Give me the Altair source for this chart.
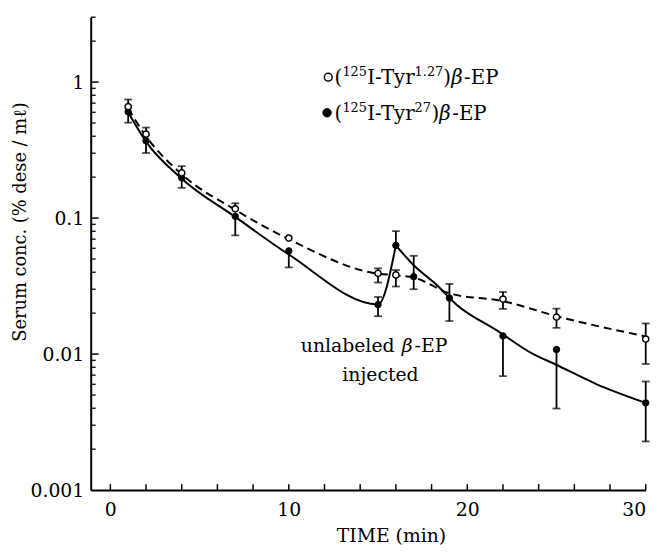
import altair as alt
import pandas as pd

# ---------------- data ----------------
# open circles: (125I-Tyr1.27)beta-EP
t_open  = [1, 2, 4, 7, 10, 15, 16, 22, 25, 30]
v_open  = [0.66, 0.414, 0.215, 0.117, 0.0713, 0.0393, 0.0382, 0.0254, 0.0187, 0.0129]
lo_open = [0.66, 0.414, 0.215, 0.117, 0.0713, 0.0336, 0.0314, 0.0215, 0.0156, 0.00846]
hi_open = [0.745, 0.463, 0.241, 0.1285, 0.0713, 0.0427, 0.0415, 0.0286, 0.0216, 0.0168]

# filled circles: (125I-Tyr27)beta-EP
t_fill  = [1, 2, 4, 7, 10, 15, 16, 17, 19, 22, 25, 30]
v_fill  = [0.605, 0.37, 0.198, 0.103, 0.0574, 0.0231, 0.063, 0.0371, 0.0258, 0.0136, 0.0108, 0.00438]
lo_fill = [0.503, 0.301, 0.167, 0.0746, 0.0434, 0.019, 0.063, 0.030, 0.0175, 0.00689, 0.00398, 0.00228]
hi_fill = [0.605, 0.37, 0.198, 0.103, 0.0574, 0.0263, 0.0802, 0.0528, 0.0328, 0.0136, 0.0108, 0.00629]

# fitted curves
fit_open_t = [1, 2, 4, 7, 10, 15, 16, 17, 19, 22, 25, 30]
fit_open_v = [0.64, 0.40, 0.21, 0.115, 0.070, 0.039, 0.038, 0.0365, 0.028, 0.0245, 0.019, 0.0135]

fit_fill_a_t = [1, 2, 4, 7, 10, 15, 16]
fit_fill_a_v = [0.60, 0.365, 0.195, 0.102, 0.054, 0.0232, 0.063]
fit_fill_b_t = [16, 17, 18.2, 19.4, 21.7, 23.7, 24.9, 27.2, 30]
fit_fill_b_v = [0.063, 0.045, 0.033, 0.0231, 0.0148, 0.0100, 0.00846, 0.00605, 0.00438]

# axis ticks / labels
x_labels = [0, 10, 20, 30]
x_ticks = [0, 2, 4, 6, 8, 10, 12, 14, 16, 18, 20, 22, 24, 26, 28, 30]
y_labels = [0.001, 0.01, 0.1, 1]
y_major = [0.01, 0.1, 1]
y_minor = [0.002, 0.003, 0.004, 0.005, 0.006, 0.007, 0.008, 0.009,
           0.02, 0.03, 0.04, 0.05, 0.06, 0.07, 0.08, 0.09,
           0.2, 0.3, 0.4, 0.5, 0.6, 0.7, 0.8, 0.9, 2, 3]

# ---------------- layout ----------------
FONT = "DejaVu Serif"
PL, PT = 91.6, 14.4          # plot origin on the page
W, H = 561, 478

xs = alt.Scale(domain=[-1.1, 30], nice=False, zero=False)
ys = alt.Scale(type="log", domain=[0.001, 3], nice=False)

x_axis = alt.Axis(
    values=x_labels, ticks=False, tickSize=0, grid=False,
    domainColor="black", domainWidth=2,
    labelFont=FONT, labelFontSize=19, labelColor="black", labelPadding=11,
    title="TIME (min)", titleFont=FONT, titleFontSize=19, titleFontWeight="normal",
    titleColor="black", titleX=303.5, titleY=46, titleBaseline="middle")
y_axis = alt.Axis(
    values=y_labels, format="~g", ticks=False, tickSize=0, grid=False,
    domainColor="black", domainWidth=2,
    labelFont=FONT, labelFontSize=19, labelColor="black", labelPadding=7,
    title="Serum conc. (% dese / mℓ)", titleFont=FONT, titleFontSize=18,
    titleFontWeight="normal", titleColor="black", titleAngle=-90,
    titleX=-70.5, titleY=206.6, titleBaseline="middle", titleAlign="center")

df_open = pd.DataFrame({"t": t_open, "v": v_open, "lo": lo_open, "hi": hi_open})
df_fill = pd.DataFrame({"t": t_fill, "v": v_fill, "lo": lo_fill, "hi": hi_fill})
df_fit_open = pd.DataFrame({"t": fit_open_t, "v": fit_open_v})
df_fit_fill = pd.concat([
    pd.DataFrame({"t": fit_fill_a_t, "v": fit_fill_a_v, "seg": "a"}),
    pd.DataFrame({"t": fit_fill_b_t, "v": fit_fill_b_v, "seg": "b"}),
])

caps = []
for d in (df_open, df_fill):
    for _, r in d.iterrows():
        if r["hi"] > r["v"]:
            caps.append({"t": r["t"], "c": r["hi"]})
        if r["lo"] < r["v"]:
            caps.append({"t": r["t"], "c": r["lo"]})
df_caps = pd.DataFrame(caps)


def X(f="t"):
    return alt.X(f"{f}:Q", scale=xs, axis=x_axis, title="TIME (min)")


def Y(f="v"):
    return alt.Y(f"{f}:Q", scale=ys, axis=y_axis, title="Serum conc. (% dese / mℓ)")


xt = alt.Chart(pd.DataFrame({"t": x_ticks})).mark_rule(color="black", strokeWidth=1.5).encode(
    x=X(), y=alt.value(H), y2=alt.value(H - 6))
ytM = alt.Chart(pd.DataFrame({"v": y_major})).mark_rule(color="black", strokeWidth=1.5).encode(
    y=Y(), x=alt.value(0), x2=alt.value(8))
ytm = alt.Chart(pd.DataFrame({"v": y_minor})).mark_rule(color="black", strokeWidth=1.3).encode(
    y=Y(), x=alt.value(0), x2=alt.value(5))

line_open = alt.Chart(df_fit_open).mark_line(
    color="black", strokeWidth=2, strokeDash=[8, 5], interpolate="monotone").encode(x=X(), y=Y())
line_fill = alt.Chart(df_fit_fill).mark_line(
    color="black", strokeWidth=2, interpolate="monotone").encode(x=X(), y=Y(), detail="seg:N")

err_open = alt.Chart(df_open).mark_rule(color="black", strokeWidth=1.8).encode(
    x=X(), y=Y("lo"), y2="hi:Q")
err_fill = alt.Chart(df_fill).mark_rule(color="black", strokeWidth=1.8).encode(
    x=X(), y=Y("lo"), y2="hi:Q")
cap = alt.Chart(df_caps).mark_tick(color="black", orient="horizontal", size=8, thickness=1.8).encode(
    x=X(), y=Y("c"))

pts_fill = alt.Chart(df_fill).mark_point(
    shape="circle", filled=True, fill="black", stroke="black", strokeWidth=1, size=42, opacity=1
).encode(x=X(), y=Y())
pts_open = alt.Chart(df_open).mark_point(
    shape="circle", filled=True, fill="white", stroke="black", strokeWidth=1.5, size=40, opacity=1
).encode(x=X(), y=Y())

one = pd.DataFrame({"a": [0]})


def txt(text, px, py, size, italic=False, align="left"):
    return alt.Chart(one).mark_text(
        text=text, align=align, baseline="alphabetic", font=FONT, fontSize=size,
        fontStyle="italic" if italic else "normal", color="black"
    ).encode(x=alt.value(px - PL), y=alt.value(py - PT))


legend = [
    alt.Chart(one).mark_point(shape="circle", filled=True, fill="white", stroke="black",
                              strokeWidth=1.5, size=62, opacity=1).encode(
        x=alt.value(331.7 - PL), y=alt.value(75 - PT)),
    alt.Chart(one).mark_point(shape="circle", filled=True, fill="black", stroke="black",
                              strokeWidth=1, size=72, opacity=1).encode(
        x=alt.value(330.5 - PL), y=alt.value(111 - PT)),
]
MAIN, SUP = 20, 13
b1, s1 = 82, 74
b2, s2 = 118, 110
legend += [
    txt("(", 338, b1, MAIN), txt("125", 346, s1, SUP), txt("I-Tyr", 371, b1, MAIN),
    txt("1.27", 419, s1, SUP), txt(")", 448, b1, MAIN), txt("β", 456, b1, MAIN, True),
    txt("-EP", 469, b1, MAIN),
    txt("(", 338, b2, MAIN), txt("125", 346, s2, SUP), txt("I-Tyr", 371, b2, MAIN),
    txt("27", 419, s2, SUP), txt(")", 436, b2, MAIN), txt("β", 444, b2, MAIN, True),
    txt("-EP", 457, b2, MAIN),
]

annot = [
    txt("unlabeled", 304, 353, 19), txt("β", 406, 353, 19, True), txt("-EP", 419, 353, 19),
    txt("injected", 384.5, 382, 19, align="center"),
]

chart = alt.layer(
    xt, ytM, ytm, line_open, line_fill, err_open, err_fill, cap, pts_fill, pts_open,
    *legend, *annot
).properties(
    width=W, height=H,
    autosize=alt.AutoSizeParams(type="none"),
    padding={"left": PL - 8, "top": PT - 8, "right": 11.4, "bottom": 54.6},
    background="white",
).configure_view(stroke=None)

chart.save("out.html", embed_options={"renderer": "svg", "actions": False})
